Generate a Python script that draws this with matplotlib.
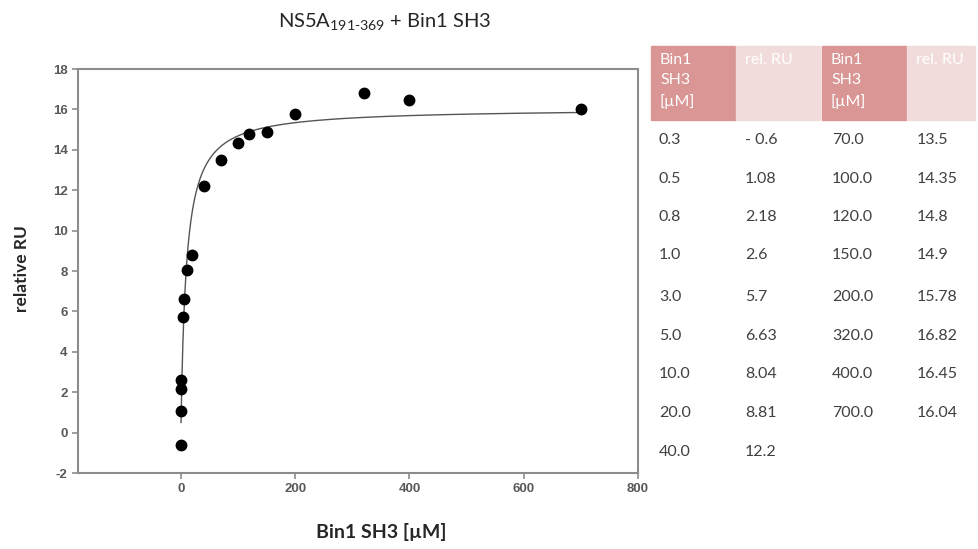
import numpy as np
import matplotlib
matplotlib.use("Agg")
import matplotlib.pyplot as plt
from matplotlib.patches import Rectangle

# Binding data
conc_uM = [0.3, 0.5, 0.8, 1.0, 3.0, 5.0, 10.0, 20.0, 40.0,
           70.0, 100.0, 120.0, 150.0, 200.0, 320.0, 400.0, 700.0]
rel_ru = [-0.6, 1.08, 2.18, 2.6, 5.7, 6.63, 8.04, 8.81, 12.2,
          13.5, 14.35, 14.8, 14.9, 15.78, 16.82, 16.45, 16.04]
conc_labels = ["0.3", "0.5", "0.8", "1.0", "3.0", "5.0", "10.0", "20.0", "40.0",
               "70.0", "100.0", "120.0", "150.0", "200.0", "320.0", "400.0", "700.0"]
ru_labels = ["- 0.6", "1.08", "2.18", "2.6", "5.7", "6.63", "8.04", "8.81", "12.2",
             "13.5", "14.35", "14.8", "14.9", "15.78", "16.82", "16.45", "16.04"]

plt.rcParams["axes.unicode_minus"] = False
plt.rcParams["mathtext.fontset"] = "custom"
plt.rcParams["mathtext.rm"] = "Lato"

x = np.array(conc_uM)
y = np.array(rel_ru)

# one-site binding fit  y = Bmax * x / (Kd + x), simple grid search on Kd
best = None
for kd in np.linspace(1, 60, 2000):
    f = x / (kd + x)
    bmax = np.sum(y * f) / np.sum(f * f)
    res = np.sum((y - bmax * f) ** 2)
    if best is None or res < best[0]:
        best = (res, kd, bmax)
_, kd, bmax = best
xfit = np.linspace(x.min(), x.max(), 2000)
yfit = bmax * xfit / (kd + xfit)

W, H = 979, 549
fig = plt.figure(figsize=(W / 100, H / 100), dpi=100)
ax = fig.add_axes([78 / W, 1 - 473 / H, (638 - 78) / W, (473 - 69) / H])

ax.plot(xfit, yfit, color="#555555", lw=1.0, zorder=2)
ax.plot(x, y, "o", color="black", ms=7.5, zorder=3)

ax.set_xlim(-180, 800)
ax.set_ylim(-2, 18)
ax.set_xticks([0, 200, 400, 600, 800])
ax.set_yticks(range(-2, 19, 2))
for s in ax.spines.values():
    s.set_color("#8c8c8c")
    s.set_linewidth(1.5)
ax.tick_params(direction="out", length=4, width=1.2, color="#8c8c8c",
               labelcolor="#595959", labelsize=9.5)
for lab in ax.get_xticklabels() + ax.get_yticklabels():
    lab.set_fontfamily("Liberation Sans")
    lab.set_fontweight("bold")

fig.text(381 / W, 1 - 532 / H, "Bin1 SH3 [µM]", ha="center", va="center",
         fontsize=14, fontweight="bold", family="Lato", color="#262626")
fig.text(22 / W, 1 - 269 / H, "relative RU", ha="center", va="center", rotation=90,
         fontsize=12.5, fontweight="bold", family="Lato", color="#262626")

fig.text(385 / W, 1 - 22 / H, r"NS5A$_{\mathrm{191}\text{-}\mathrm{369}}$ + Bin1 SH3",
         ha="center", va="center", fontsize=14.5, family="Lato", color="#262626")

# side table
dark = "#d99694"
light = "#f2dcdb"
col_x = [651, 736, 822, 907]
col_w = [84, 84, 84, 68]
head_fill = [dark, light, dark, light]
for cx, cw, cf in zip(col_x, col_w, head_fill):
    fig.patches.append(Rectangle((cx / W, 1 - 120 / H), cw / W, 74 / H,
                                 transform=fig.transFigure, color=cf, zorder=0))
head_txt = ["Bin1\nSH3\n[µM]", "rel. RU", "Bin1\nSH3\n[µM]", "rel. RU"]
for cx, t in zip(col_x, head_txt):
    fig.text((cx + 9) / W, 1 - 53 / H, t, ha="left", va="top", fontsize=11.5,
             family="Lato", color="white", linespacing=1.55)

row_y = [140, 179, 217, 255, 297, 336, 374, 413, 452]
for i, (cl, rl) in enumerate(zip(conc_labels, ru_labels)):
    if i < 9:
        c0, c1, ry = 659, 745, row_y[i]
    else:
        c0, c1, ry = 832, 917, row_y[i - 9]
    fig.text(c0 / W, 1 - ry / H, cl, ha="left", va="center", fontsize=11.5,
             family="Lato", color="#404040")
    fig.text(c1 / W, 1 - ry / H, rl, ha="left", va="center", fontsize=11.5,
             family="Lato", color="#404040")

fig.savefig("out.png", dpi=100)
